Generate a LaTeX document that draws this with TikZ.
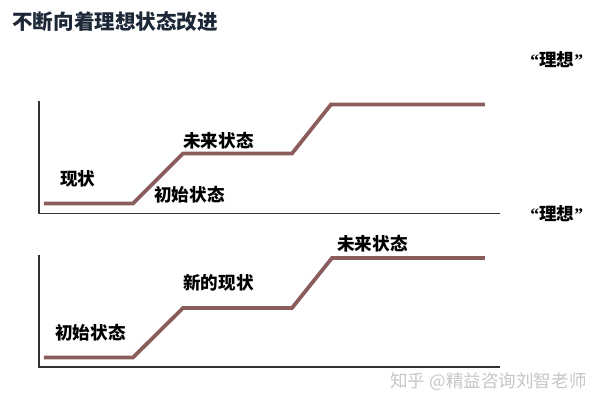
\documentclass[tikz,border=0pt]{standalone}
\usepackage{fontspec}
\setmainfont{Noto Sans CJK SC}
\newfontfamily\quotefont{Liberation Serif}
\usetikzlibrary{positioning}
\definecolor{stepline}{RGB}{139,92,92}
\definecolor{titleblue}{RGB}{28,40,56}
\definecolor{axisgray}{RGB}{50,50,50}
\definecolor{markgray}{RGB}{198,198,198}
\tikzset{
  statelabel/.style={anchor=west, inner sep=0pt, font=\fontsize{10}{12}\selectfont\bfseries},
  ideallabel/.style={anchor=west, inner sep=0pt, font=\fontsize{10}{12}\selectfont\bfseries},
  stepline/.style={line width=0.075cm, color=stepline},
  axisline/.style={line width=0.03cm, color=axisgray}
}
\begin{document}
\begin{tikzpicture}[x=0.02cm, y=-0.02cm]
                        \useasboundingbox (0.000000,0.000000) rectangle (600.000000,405.000000);

                        % Marking the title
                        \node (title) [anchor=west, inner sep=0pt, text=titleblue, font=\fontsize{11.7}{14}\selectfont\bfseries] at (12.000000,22.000000) {不断向着理想状态改进};%

                        % Drawing axes of the upper chart
                        \draw [axisline] (39.000000,101.000000) -- (39.000000,213.500000) -- (500.000000,213.500000);%

                        % Drawing line of the upper chart
                        \draw [stepline] (44.000000,203.500000) -- (133.000000,203.500000) -- (183.000000,153.500000)
                                         -- (292.000000,153.500000) -- (331.000000,104.500000) -- (485.000000,104.500000);%

                        % Marking the upper states
                        \node (nowA) [statelabel] at (60.000000,179.000000) {现状};%
                        \node (startA) [statelabel] at (154.000000,195.000000) {初始状态};%
                        \node (futureA) [statelabel] at (183.000000,141.000000) {未来状态};%
                        \node (idealA) [ideallabel] at (530.000000,60.000000) {{\quotefont “}理想{\quotefont ”}};%

                        % Drawing axes of the lower chart
                        \draw [axisline] (39.000000,255.000000) -- (39.000000,367.000000) -- (500.000000,367.000000);%

                        % Drawing line of the lower chart
                        \draw [stepline] (44.000000,357.500000) -- (133.000000,357.500000) -- (183.000000,308.000000)
                                         -- (292.000000,308.000000) -- (332.000000,258.000000) -- (485.000000,258.000000);%

                        % Marking the lower states
                        \node (startB) [statelabel] at (55.000000,333.000000) {初始状态};%
                        \node (newnowB) [statelabel] at (183.000000,283.000000) {新的现状};%
                        \node (futureB) [statelabel] at (337.000000,244.000000) {未来状态};%
                        \node (idealB) [ideallabel] at (530.000000,214.000000) {{\quotefont “}理想{\quotefont ”}};%

                        % Marking the source
                        \node (source) [anchor=west, inner sep=0pt, text=markgray, font=\fontsize{10}{12}\selectfont] at (390.000000,382.000000) {知乎 @精益咨询刘智老师};%
\end{tikzpicture}
\end{document}
